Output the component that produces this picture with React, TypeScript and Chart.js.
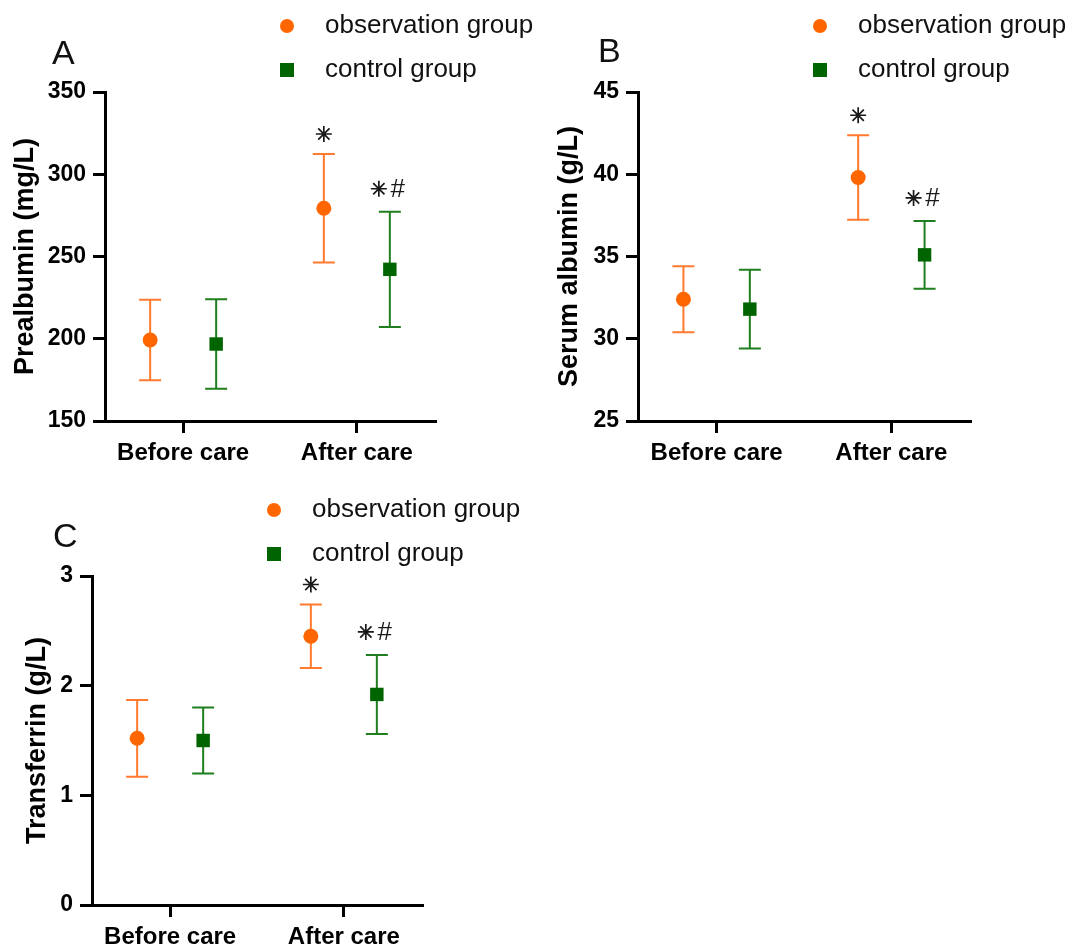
import React, { useEffect, useRef } from 'react';
import { Chart, registerables } from 'chart.js';

Chart.register(...registerables);

// ---------- data ----------
const categories = ['Before care', 'After care'];
const seriesNames = ['observation group', 'control group'];

const prealbuminObsMean = [199.2, 279.3];
const prealbuminObsSd = [24.5, 33.0];
const prealbuminCtrlMean = [196.8, 242.2];
const prealbuminCtrlSd = [27.2, 35.0];
const prealbuminTicks = [150, 200, 250, 300, 350];

const albuminObsMean = [32.4, 39.8];
const albuminObsSd = [2.0, 2.57];
const albuminCtrlMean = [31.8, 35.1];
const albuminCtrlSd = [2.4, 2.06];
const albuminTicks = [25, 30, 35, 40, 45];

const transferrinObsMean = [1.52, 2.45];
const transferrinObsSd = [0.35, 0.29];
const transferrinCtrlMean = [1.5, 1.92];
const transferrinCtrlSd = [0.3, 0.36];
const transferrinTicks = [0, 1, 2, 3];

const obsMarks = ['', '*'];
const ctrlMarks = ['', '*#'];

// ---------- style ----------
const FONT = "'Liberation Sans', Arial, sans-serif";
const OBS_COLOR = '#ff6600';
const OBS_ERR = '#ff7a2e';
const CTRL_COLOR = '#006400';
const CTRL_ERR = '#1f7f1f';
const GROUP_OFFSET = 0.19;

type Panel = {
  letter: string;
  yTitle: string;
  obsMean: number[];
  obsSd: number[];
  ctrlMean: number[];
  ctrlSd: number[];
  ticks: number[];
  left: number;
  top: number;
  width: number;
  height: number;
  axisLeft: number;
  axisTop: number;
  axisRight: number;
  axisBottom: number;
  titlePad: number;
  letterX: number;
  letterY: number;
};

const panels: Panel[] = [
  {
    letter: 'A', yTitle: 'Prealbumin (mg/L)',
    obsMean: prealbuminObsMean, obsSd: prealbuminObsSd,
    ctrlMean: prealbuminCtrlMean, ctrlSd: prealbuminCtrlSd, ticks: prealbuminTicks,
    left: 0, top: 0, width: 537, height: 470,
    axisLeft: 105, axisTop: 92, axisRight: 435, axisBottom: 421,
    titlePad: 9, letterX: 52, letterY: 64,
  },
  {
    letter: 'B', yTitle: 'Serum albumin (g/L)',
    obsMean: albuminObsMean, obsSd: albuminObsSd,
    ctrlMean: albuminCtrlMean, ctrlSd: albuminCtrlSd, ticks: albuminTicks,
    left: 537, top: 0, width: 537, height: 470,
    axisLeft: 101, axisTop: 92, axisRight: 433, axisBottom: 421,
    titlePad: 16, letterX: 61, letterY: 62,
  },
  {
    letter: 'C', yTitle: 'Transferrin (g/L)',
    obsMean: transferrinObsMean, obsSd: transferrinObsSd,
    ctrlMean: transferrinCtrlMean, ctrlSd: transferrinCtrlSd, ticks: transferrinTicks,
    left: 0, top: 470, width: 537, height: 477,
    axisLeft: 92, axisTop: 106, axisRight: 422, axisBottom: 435,
    titlePad: 21, letterX: 53, letterY: 77,
  },
];

function drawAsterisk(ctx: CanvasRenderingContext2D, x: number, y: number, r: number) {
  ctx.save();
  ctx.strokeStyle = '#1a1a1a';
  ctx.lineWidth = 1.7;
  ctx.beginPath();
  for (let k = 0; k < 4; k++) {
    const a = (k * Math.PI) / 4;
    ctx.moveTo(x - r * Math.cos(a), y - r * Math.sin(a));
    ctx.lineTo(x + r * Math.cos(a), y + r * Math.sin(a));
  }
  ctx.stroke();
  ctx.beginPath();
  ctx.fillStyle = '#1a1a1a';
  ctx.arc(x, y, 2, 0, Math.PI * 2);
  ctx.fill();
  ctx.restore();
}

const decorPlugin = {
  id: 'decor',
  beforeDatasetsDraw(chart: any) {
    const ctx = chart.ctx as CanvasRenderingContext2D;
    const yScale = chart.scales.y;
    chart.data.datasets.forEach((ds: any, i: number) => {
      const meta = chart.getDatasetMeta(i);
      meta.data.forEach((pt: any, j: number) => {
        const m = ds.means[j];
        const s = ds.sds[j];
        const x = pt.x;
        const yHi = yScale.getPixelForValue(m + s);
        const yLo = yScale.getPixelForValue(m - s);
        ctx.save();
        ctx.strokeStyle = ds.errColor;
        ctx.lineWidth = 2;
        ctx.beginPath();
        ctx.moveTo(x, yHi);
        ctx.lineTo(x, yLo);
        ctx.moveTo(x - 11, yHi);
        ctx.lineTo(x + 11, yHi);
        ctx.moveTo(x - 11, yLo);
        ctx.lineTo(x + 11, yLo);
        ctx.stroke();
        ctx.restore();
      });
    });
  },
  afterDatasetsDraw(chart: any) {
    const ctx = chart.ctx as CanvasRenderingContext2D;
    const yScale = chart.scales.y;
    chart.data.datasets.forEach((ds: any, i: number) => {
      const meta = chart.getDatasetMeta(i);
      meta.data.forEach((pt: any, j: number) => {
        const mark: string = ds.marks[j];
        if (!mark) return;
        const yHi = yScale.getPixelForValue(ds.means[j] + ds.sds[j]);
        if (mark.indexOf('#') >= 0) {
          const y = yHi - 23;
          drawAsterisk(ctx, pt.x - 11, y, 8);
          ctx.save();
          ctx.fillStyle = '#1a1a1a';
          ctx.font = `26px ${FONT}`;
          ctx.textAlign = 'center';
          ctx.textBaseline = 'middle';
          ctx.fillText('#', pt.x + 8, y + 1);
          ctx.restore();
        } else {
          drawAsterisk(ctx, pt.x, yHi - 20, 8);
        }
      });
    });
  },
  afterDraw(chart: any, _args: any, opts: any) {
    const ctx = chart.ctx as CanvasRenderingContext2D;
    const area = chart.chartArea;
    ctx.save();
    // legend
    const lx = area.left + 182;
    const tx = area.left + 220;
    const y1 = area.top - 66;
    const y2 = area.top - 22;
    ctx.fillStyle = OBS_COLOR;
    ctx.beginPath();
    ctx.arc(lx, y1, 7, 0, Math.PI * 2);
    ctx.fill();
    ctx.fillStyle = CTRL_COLOR;
    ctx.fillRect(lx - 7, y2 - 7, 14, 14);
    ctx.fillStyle = '#111';
    ctx.font = `26px ${FONT}`;
    ctx.textAlign = 'left';
    ctx.textBaseline = 'middle';
    ctx.fillText(seriesNames[0], tx, y1);
    ctx.fillText(seriesNames[1], tx, y2);
    // letter
    ctx.font = `34px ${FONT}`;
    ctx.textBaseline = 'alphabetic';
    ctx.fillText(opts.letter, opts.letterX, opts.letterY);
    ctx.restore();
  },
};

function PanelChart({ p }: { p: Panel }) {
  const ref = useRef<HTMLCanvasElement | null>(null);
  useEffect(() => {
    if (!ref.current) return;
    const chart = new Chart(ref.current, {
      type: 'scatter',
      data: {
        datasets: [
          {
            label: seriesNames[0],
            data: p.obsMean.map((v, i) => ({ x: i + 1 - GROUP_OFFSET, y: v })),
            means: p.obsMean,
            sds: p.obsSd,
            marks: obsMarks,
            errColor: OBS_ERR,
            pointStyle: 'circle',
            pointRadius: 7.5,
            pointHoverRadius: 7.5,
            backgroundColor: OBS_COLOR,
            borderColor: OBS_COLOR,
            borderWidth: 0,
          } as any,
          {
            label: seriesNames[1],
            data: p.ctrlMean.map((v, i) => ({ x: i + 1 + GROUP_OFFSET, y: v })),
            means: p.ctrlMean,
            sds: p.ctrlSd,
            marks: ctrlMarks,
            errColor: CTRL_ERR,
            pointStyle: 'rect',
            pointRadius: 9.5,
            pointHoverRadius: 9.5,
            backgroundColor: CTRL_COLOR,
            borderColor: CTRL_COLOR,
            borderWidth: 0,
          } as any,
        ],
      },
      options: {
        animation: false,
        responsive: false,
        devicePixelRatio: 1,
        events: [],
        layout: {
          padding: { top: p.axisTop, right: p.width - p.axisRight, bottom: 0, left: 0 },
        },
        plugins: {
          legend: { display: false },
          tooltip: { enabled: false },
          decor: { letter: p.letter, letterX: p.letterX, letterY: p.letterY },
        } as any,
        scales: {
          x: {
            type: 'linear',
            min: 0.55,
            max: 2.45,
            afterBuildTicks: (s: any) => {
              s.ticks = categories.map((_, i) => ({ value: i + 1 }));
            },
            afterFit: (s: any) => {
              s.height = p.height - p.axisBottom;
            },
            ticks: {
              autoSkip: false,
              maxRotation: 0,
              color: '#000',
              padding: 6,
              font: { family: FONT, size: 24, weight: 'bold' },
              callback: (v: any) => categories[Math.round(Number(v)) - 1] ?? '',
            },
            grid: {
              display: true,
              drawOnChartArea: false,
              drawTicks: true,
              tickLength: 12,
              color: '#000',
              lineWidth: 3,
            },
            border: { display: true, color: '#000', width: 3 },
          },
          y: {
            type: 'linear',
            min: p.ticks[0],
            max: p.ticks[p.ticks.length - 1],
            afterBuildTicks: (s: any) => {
              s.ticks = p.ticks.map((v) => ({ value: v }));
            },
            afterFit: (s: any) => {
              s.width = p.axisLeft;
            },
            ticks: {
              color: '#000',
              padding: 7,
              font: { family: FONT, size: 23, weight: 'bold' },
            },
            grid: {
              display: true,
              drawOnChartArea: false,
              drawTicks: true,
              tickLength: 12,
              color: '#000',
              lineWidth: 3,
            },
            border: { display: true, color: '#000', width: 3 },
            title: {
              display: true,
              text: p.yTitle,
              color: '#000',
              font: { family: FONT, size: 27, weight: 'bold' },
              padding: { top: p.titlePad, bottom: 0 },
            },
          },
        },
      } as any,
      plugins: [decorPlugin as any],
    });
    return () => chart.destroy();
  }, [p]);
  return (
    <canvas
      ref={ref}
      width={p.width}
      height={p.height}
      style={{ position: 'absolute', left: p.left, top: p.top, width: p.width, height: p.height }}
    />
  );
}

export default function App() {
  return (
    <div style={{ position: 'absolute', left: 0, top: 0, width: 1074, height: 947, background: '#fff', overflow: 'hidden' }}>
      {panels.map((p) => (
        <PanelChart key={p.letter} p={p} />
      ))}
    </div>
  );
}
